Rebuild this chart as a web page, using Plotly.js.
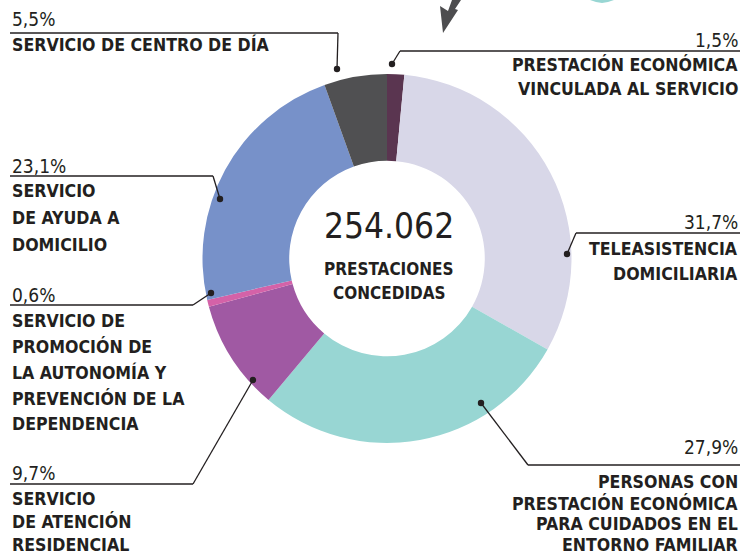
<!DOCTYPE html>
<html>
<head>
<meta charset="utf-8">
<script src="https://cdn.plot.ly/plotly-3.0.1.min.js"></script>
<style>html,body{margin:0;padding:0;background:#fff;}#chart{width:755px;height:555px;}</style>
</head>
<body>
<div id="chart"></div>
<script>
// ---- data ----
const categories = [
  'Prestación económica vinculada al servicio',
  'Teleasistencia domiciliaria',
  'Personas con prestación económica para cuidados en el entorno familiar',
  'Servicio de atención residencial',
  'Servicio de promoción de la autonomía y prevención de la dependencia',
  'Servicio de ayuda a domicilio',
  'Servicio de centro de día'
];
const values = [1.5, 31.7, 27.9, 9.7, 0.6, 23.1, 5.5];
const pctLabels = ['1,5%', '31,7%', '27,9%', '9,7%', '0,6%', '23,1%', '5,5%'];
const labelLines = [
  ['PRESTACIÓN ECONÓMICA', 'VINCULADA AL SERVICIO'],
  ['TELEASISTENCIA', 'DOMICILIARIA'],
  ['PERSONAS CON', 'PRESTACIÓN ECONÓMICA', 'PARA CUIDADOS EN EL', 'ENTORNO FAMILIAR'],
  ['SERVICIO', 'DE ATENCIÓN', 'RESIDENCIAL'],
  ['SERVICIO DE', 'PROMOCIÓN DE', 'LA AUTONOMÍA Y', 'PREVENCIÓN DE LA', 'DEPENDENCIA'],
  ['SERVICIO', 'DE AYUDA A', 'DOMICILIO'],
  ['SERVICIO DE CENTRO DE DÍA']
];
const totalText = '254.062';
const totalLabel = ['PRESTACIONES', 'CONCEDIDAS'];

// ---- styles / layout ----
const colors = ['#5a3550', '#d8d7e8', '#98d6d3', '#a059a3', '#d462a8', '#7791c9', '#505052'];
const W = 755, H = 555;
const FONT = '"Liberation Sans Narrow", "DejaVu Sans Condensed", "Arial Narrow", sans-serif';
const TXT = '#231f20';
const px = x => x / W;
const py = y => 1 - y / H;

// callout geometry (pixels): dot, elbow, line end, side, pct y, first label y, label spacing
const callouts = [
  {dot:[392,64], elbow:[400,51], end:740, side:'right', pctY:40, labY:64, dy:25},
  {dot:[567,254], elbow:[576,233], end:740, side:'right', pctY:222, labY:249, dy:25},
  {dot:[481,403], elbow:[528,465], end:740, side:'right', pctY:447, labY:482, dy:21},
  {dot:[253,380], elbow:[193,484], end:10, side:'left', pctY:473, labY:498.5, dy:23},
  {dot:[211,293], elbow:[193,305], end:10, side:'left', pctY:294.5, labY:321, dy:25.8},
  {dot:[220,199], elbow:[213,176], end:10, side:'left', pctY:166, labY:191, dy:27},
  {dot:[337,69], elbow:[338,33], end:10, side:'left', pctY:19.5, labY:44.5, dy:25}
];

const shapes = [];
const annotations = [];
callouts.forEach((c, i) => {
  shapes.push({type:'line', xref:'paper', yref:'paper', x0:px(c.dot[0]), y0:py(c.dot[1]), x1:px(c.elbow[0]), y1:py(c.elbow[1]), line:{color:TXT, width:1.3}});
  shapes.push({type:'line', xref:'paper', yref:'paper', x0:px(c.elbow[0]), y0:py(c.elbow[1]), x1:px(c.end), y1:py(c.elbow[1]), line:{color:TXT, width:1.3}});
  const r = 3.2;
  shapes.push({type:'circle', xref:'paper', yref:'paper', x0:px(c.dot[0]-r), x1:px(c.dot[0]+r), y0:py(c.dot[1]+r), y1:py(c.dot[1]-r), fillcolor:TXT, line:{width:0}});
  const anchor = c.side === 'left' ? 'left' : 'right';
  annotations.push({xref:'paper', yref:'paper', x:px(c.end), y:py(c.pctY), text:pctLabels[i], showarrow:false, xanchor:anchor, yanchor:'middle', font:{family:FONT, size:19, color:TXT}});
  labelLines[i].forEach((ln, k) => {
    annotations.push({xref:'paper', yref:'paper', x:px(c.end), y:py(c.labY + k*c.dy), text:'<b>'+ln+'</b>', showarrow:false, xanchor:anchor, yanchor:'middle', font:{family:FONT, size:17.6, color:TXT}});
  });
});

// centre text
annotations.push({xref:'paper', yref:'paper', x:px(389), y:py(226), text:totalText, showarrow:false, xanchor:'center', yanchor:'middle', font:{family:FONT, size:35, color:TXT}});
totalLabel.forEach((t, k) => {
  annotations.push({xref:'paper', yref:'paper', x:px(389), y:py(269 + k*24), text:'<b>'+t+'</b>', showarrow:false, xanchor:'center', yanchor:'middle', font:{family:FONT, size:17, color:TXT}});
});

// decorative arrow and arc at top
const pathPx = pts => 'M ' + pts.map(p => px(p[0]) + ',' + py(p[1])).join(' L ') + ' Z';
shapes.push({type:'path', xref:'paper', yref:'paper', path:pathPx([[452,0],[461,0],[455,9],[458,10],[443,33],[440,6],[448,11]]), fillcolor:'#4d4d4f', line:{width:0}});
shapes.push({type:'path', xref:'paper', yref:'paper', path:pathPx([[590,0],[596,2],[602,3],[608,2],[614,0]]), fillcolor:'#98d6d3', line:{width:0}});

const cx = 387, cy = 258.5, R = 184.5;
const trace = {
  type:'pie', values:values, labels:categories, marker:{colors:colors, line:{width:0}},
  hole:0.53, sort:false, direction:'clockwise', rotation:0,
  textinfo:'none', hoverinfo:'label+percent', showlegend:false,
  domain:{x:[px(cx-R), px(cx+R)], y:[py(cy+R), py(cy-R)]}
};

const layout = {
  width:W, height:H, margin:{l:0, r:0, t:0, b:0},
  paper_bgcolor:'#ffffff', plot_bgcolor:'#ffffff',
  showlegend:false, shapes:shapes, annotations:annotations
};
Plotly.newPlot('chart', [trace], layout, {displayModeBar:false, staticPlot:true});
</script>
</body>
</html>
